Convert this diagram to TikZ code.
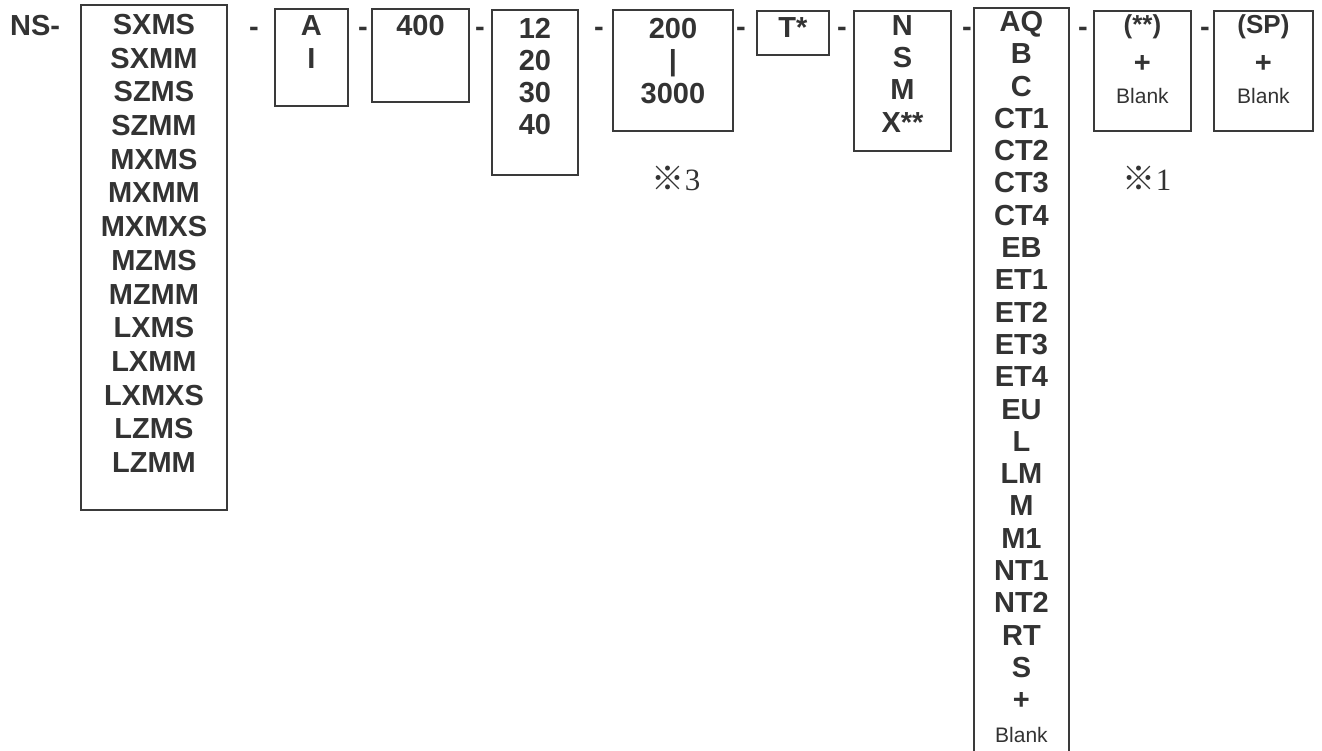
\documentclass[tikz,border=0pt]{standalone}
\usepackage{fontspec}
\setmainfont{Liberation Sans}
\newfontfamily\cjkf{Noto Sans CJK JP}
\newfontfamily\serf{Liberation Serif}
\definecolor{ink}{HTML}{333333}
\definecolor{edge}{HTML}{3A3A3A}
\begin{document}
\begin{tikzpicture}[x=1pt,y=-1pt,
  box/.style={draw=edge, line width=1.9pt, inner sep=0pt, anchor=north west},
  col/.style={text=ink, font=\fontsize{29}{33.7}\selectfont\bfseries, align=center, inner sep=0pt, anchor=north},
  hy/.style={text=ink, font=\fontsize{29}{33}\selectfont\bfseries, inner sep=0pt, anchor=base},
  paren/.style={text=ink, font=\fontsize{26}{26}\selectfont\bfseries, inner sep=0pt, anchor=base},
  small/.style={text=ink, font=\fontsize{21}{21}\selectfont, inner sep=0pt, anchor=base},
  note/.style={text=ink, inner sep=0pt, anchor=base}]
\useasboundingbox (0,0) rectangle (1322,750);
% boxes
\node[box, minimum width=146pt, minimum height=505pt] (b1) at (80,4) {};
\node[box, minimum width=73pt, minimum height=97pt] (bA) at (274,8) {};
\node[box, minimum width=97pt, minimum height=93pt] (b400) at (371,8) {};
\node[box, minimum width=86pt, minimum height=165pt] (b12) at (491,9) {};
\node[box, minimum width=120pt, minimum height=121pt] (b200) at (612,9) {};
\node[box, minimum width=72pt, minimum height=44pt] (bT) at (756,10) {};
\node[box, minimum width=97pt, minimum height=140pt] (bN) at (853,10) {};
\node[box, minimum width=95pt, minimum height=770pt] (bAQ) at (973,7) {};
\node[box, minimum width=97pt, minimum height=120pt] (bS) at (1093,10) {};
\node[box, minimum width=99pt, minimum height=120pt] (bP) at (1213,10) {};
% texts
\node[hy, anchor=base west] (ns) at (10,35.5) {NS-};
\node[col] (t1) at (b1.north |- 0,14) {SXMS\\SXMM\\SZMS\\SZMM\\MXMS\\MXMM\\MXMXS\\MZMS\\MZMM\\LXMS\\LXMM\\LXMXS\\LZMS\\LZMM};
\node[col, font=\fontsize{29}{33}\selectfont\bfseries] (tA) at (bA.north |- 0,15) {A\\I};
\node[col] (t400) at (b400.north |- 0,15) {400};
\node[col, font=\fontsize{29}{32}\selectfont\bfseries] (t12) at (b12.north |- 0,18) {12\\20\\30\\40};
\node[col, font=\fontsize{29}{32.5}\selectfont\bfseries] (t200) at (b200.north |- 0,18) {200\\|\\3000};
\node[col] (tT) at (bT.north |- 0,17) {T*};
\node[col, font=\fontsize{29}{32.3}\selectfont\bfseries] (tN) at (bN.north |- 0,15) {N\\S\\M\\X**};
\node[col, font=\fontsize{29}{32.3}\selectfont\bfseries] (tAQ) at (bAQ.north |- 0,11) {AQ\\B\\C\\CT1\\CT2\\CT3\\CT4\\EB\\ET1\\ET2\\ET3\\ET4\\EU\\L\\LM\\M\\M1\\NT1\\NT2\\RT\\S\\+\\{\mdseries\fontsize{21}{21}\selectfont Blank}};
\node[paren] (tS1) at (bS.north |- 0,33) {(**)};
\node[hy] (tS2) at (bS.north |- 0,72) {+};
\node[small] (tS3) at (bS.north |- 0,103) {Blank};
\node[paren] (tP1) at (bP.north |- 0,33) {(SP)};
\node[hy] (tP2) at (bP.north |- 0,72) {+};
\node[small] (tP3) at (bP.north |- 0,103) {Blank};
% hyphens
\node[hy] (h1) at (254,36) {-};
\node[hy] (h2) at (363,36) {-};
\node[hy] (h3) at (480,36) {-};
\node[hy] (h4) at (599,36) {-};
\node[hy] (h5) at (741,36) {-};
\node[hy] (h6) at (842,36) {-};
\node[hy] (h7) at (967,36) {-};
\node[hy] (h8) at (1083,36) {-};
\node[hy] (h9) at (1205,36) {-};
% notes
\node[note] (n3) at (676,190) {{\cjkf\fontsize{33}{33}\selectfont ※}{\serf\fontsize{31}{31}\selectfont 3}};
\node[note] (n1) at (1147,190) {{\cjkf\fontsize{33}{33}\selectfont ※}{\serf\fontsize{31}{31}\selectfont 1}};
\end{tikzpicture}
\end{document}
